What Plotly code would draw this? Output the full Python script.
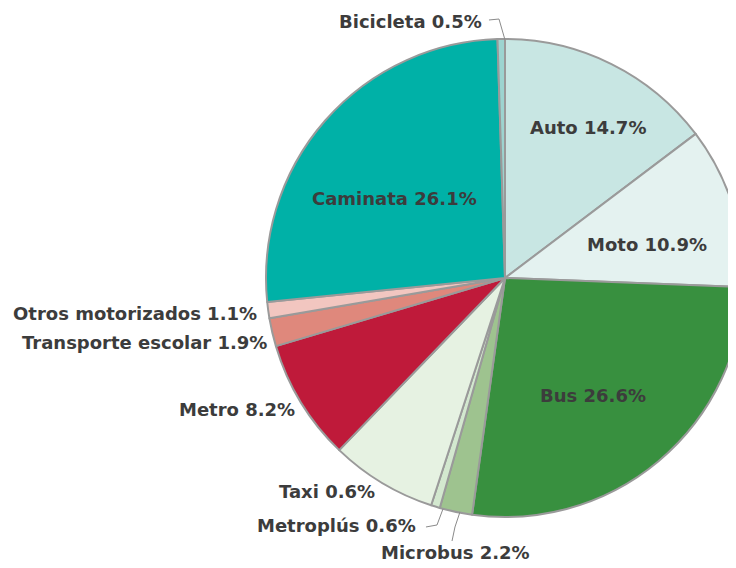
import plotly.graph_objects as go

# modos de transporte, en sentido horario desde las 12
modos = ["Auto", "Moto", "Bus", "Microbus", "Metroplús", "Taxi", "Metro",
         "Transporte escolar", "Otros motorizados", "Caminata", "Bicicleta"]
# tamaño de cada porción (Taxi dibujado ~7%)
valores = [14.7, 10.9, 26.6, 2.2, 0.6, 7.2, 8.2, 1.9, 1.1, 26.1, 0.5]
# porcentajes tal como aparecen impresos en las etiquetas
impresos = ["14.7%", "10.9%", "26.6%", "2.2%", "0.6%", "0.6%", "8.2%",
            "1.9%", "1.1%", "26.1%", "0.5%"]
colores = ["#c8e6e3", "#e4f2f0", "#38903f", "#9ec38f", "#d3e8cf", "#e6f2e2",
           "#bf1a3a", "#df887c", "#f2c6c0", "#00b1a7", "#9dd4d0"]

W, H = 736, 568
OFF = 8  # margen del body de la página


def px(x, y):
    return (x - OFF) / W, 1 - (y - OFF) / H


# posición de cada etiqueta en pixeles de pantalla (x, y, anclaje)
pos = {
    "Auto": (588, 128, "center"),
    "Moto": (647, 245, "center"),
    "Bus": (593, 395, "center"),
    "Microbus": (455, 552, "center"),
    "Metroplús": (418, 525, "right"),
    "Taxi": (377, 491, "right"),
    "Metro": (297, 409, "right"),
    "Transporte escolar": (269, 342, "right"),
    "Otros motorizados": (259, 313, "right"),
    "Caminata": (394, 198, "center"),
    "Bicicleta": (484, 21, "right"),
}

x0, _ = px(266, 0)
_, yc = px(0, 278)
fig = go.Figure(go.Pie(
    labels=modos,
    values=valores,
    sort=False,
    direction="clockwise",
    rotation=0,
    textinfo="none",
    hoverinfo="label+percent",
    marker=dict(colors=colores, line=dict(color="#9a9a9a", width=2)),
    domain=dict(x=[x0, 1.0], y=[yc - 0.45, yc + 0.45]),
    showlegend=False,
))

anots = []
for m, t in zip(modos, impresos):
    x, y, anc = pos[m]
    ax, ay = px(x, y)
    anots.append(dict(
        x=ax, y=ay, xref="paper", yref="paper",
        text=f"<b>{m} {t}</b>", showarrow=False, xanchor=anc, yanchor="middle",
        font=dict(family="DejaVu Sans", size=18, color="#3c3c3c"),
    ))

# líneas guía de las etiquetas pequeñas
guias = [
    [(489, 20), (499, 19), (505, 40)],
    [(426, 527), (437, 525), (443, 509)],
    [(452, 541), (455, 527), (460, 512)],
]
shapes = []
for g in guias:
    p = "M " + " L ".join("{:.4f},{:.4f}".format(*px(x, y)) for x, y in g)
    shapes.append(dict(type="path", path=p, xref="paper", yref="paper",
                       line=dict(color="#8a8a8a", width=1)))

fig.update_layout(
    width=W, height=H,
    margin=dict(l=0, r=0, t=0, b=0),
    paper_bgcolor="white",
    annotations=anots,
    shapes=shapes,
)

fig.write_html("out.html")
